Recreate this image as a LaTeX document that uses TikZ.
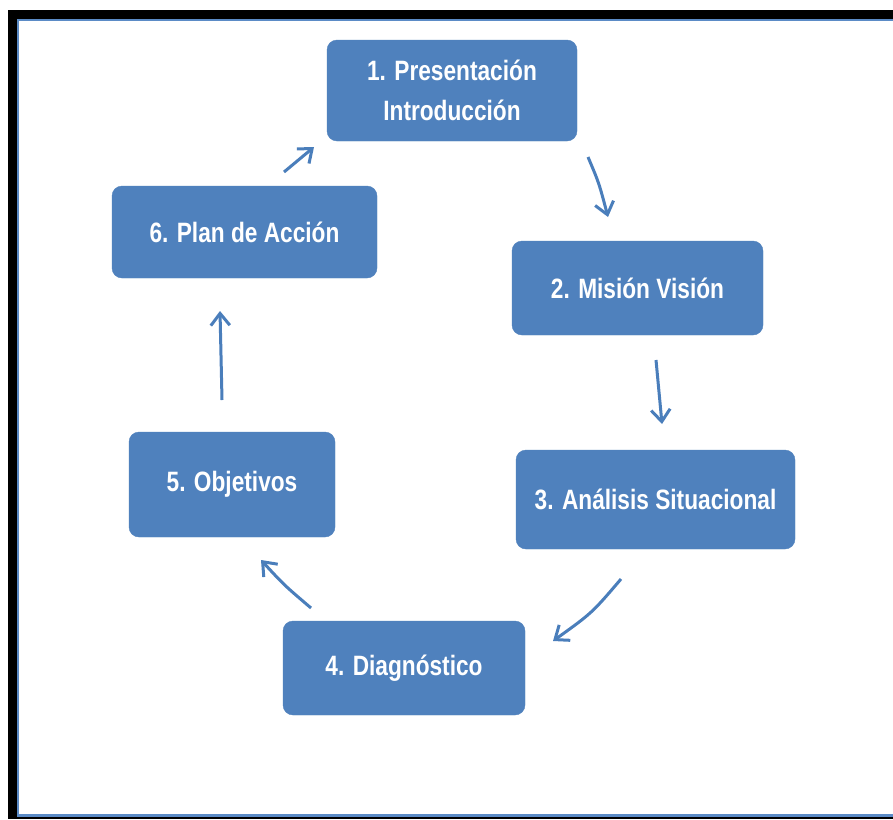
\documentclass[tikz,border=0pt]{standalone}
\usepackage{fontspec}
\newfontfamily\boxfont{Liberation Sans}[FakeStretch=0.81]
\usetikzlibrary{arrows.meta}
\definecolor{boxblue}{HTML}{4F81BD}
\definecolor{arrowblue}{HTML}{4A7EBB}
\definecolor{frameblue}{HTML}{5B8BC6}

\begin{document}
\begin{tikzpicture}[x=1pt,y=-1pt,
  stepbox/.style={fill=boxblue, draw=boxblue, rounded corners=10pt, text=white,
    font=\boxfont\bfseries\fontsize{28}{40}\selectfont, align=center, inner sep=0pt},
  flow/.style={draw=arrowblue, line width=3pt,
    -{Straight Barb[length=12pt,width=19pt]}}]
\useasboundingbox (0,0) rectangle (893,819);

% page frame: black band with a thin blue inner edge
\fill[black] (8,10) rectangle (893,819);
\fill[frameblue] (17,19) rectangle (893,817);
\fill[white] (18.5,21) rectangle (893,814);

% steps of the cycle
\node[stepbox, minimum width=250pt, minimum height=101pt] (s1) at (452,90.5) {1. Presentación\\Introducción};
\node[stepbox, minimum width=251pt, minimum height=94pt] (s2) at (637.5,288) {2. Misión Visión};
\node[stepbox, minimum width=279pt, minimum height=99pt] (s3) at (655.5,499.5) {3. Análisis Situacional};
\node[stepbox, minimum width=242pt, minimum height=94pt] (s4) at (404,668) {4. Diagnóstico};
\node[stepbox, minimum width=206pt, minimum height=105pt] (s5) at (232,484.5) {5. Objetivos};
\node[stepbox, minimum width=265pt, minimum height=92pt] (s6) at (244.5,232) {6. Plan de Acción};

% free ends of the arrows between the steps
\coordinate (a12s) at (588,157);
\coordinate (a12e) at (608,217);
\coordinate (a23s) at (656,360);
\coordinate (a23e) at (662,424);
\coordinate (a34s) at (621,579);
\coordinate (a34e) at (553,641);
\coordinate (a45s) at (311,608);
\coordinate (a45e) at (261,560);
\coordinate (a56s) at (222,400);
\coordinate (a56e) at (220,311);
\coordinate (a61s) at (284,172);
\coordinate (a61e) at (314,147);

\draw[flow] (a12s) .. controls (599,183) .. (a12e);
\draw[flow] (a23s) -- (a23e);
\draw[flow] (a34s) .. controls (592,613) .. (a34e);
\draw[flow] (a45s) .. controls (284,585) .. (a45e);
\draw[flow] (a56s) -- (a56e);
\draw[flow] (a61s) -- (a61e);
\end{tikzpicture}
\end{document}
